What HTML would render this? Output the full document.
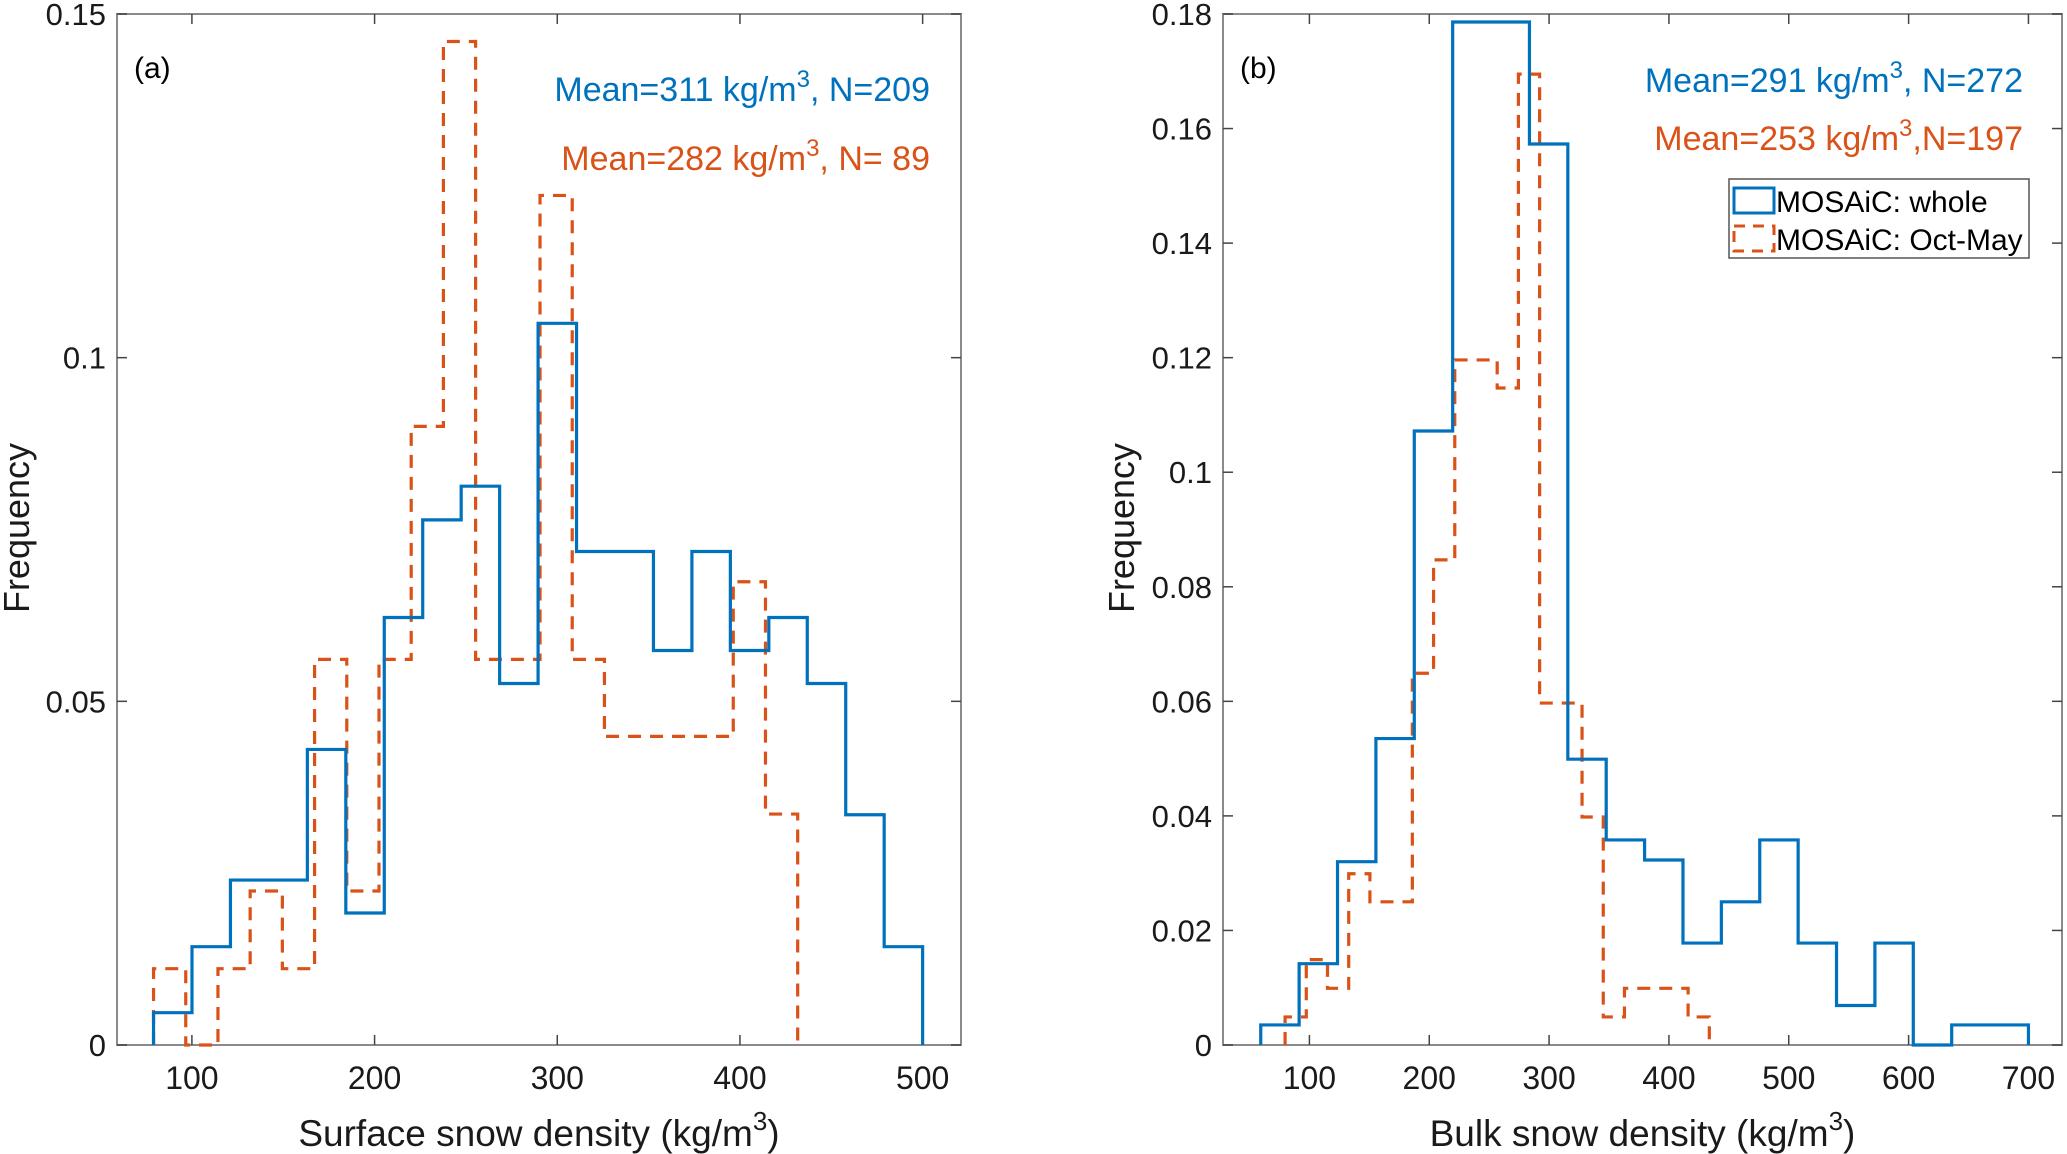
<!DOCTYPE html>
<html><head><meta charset="utf-8"><style>
html,body{margin:0;padding:0;background:#fff;}
svg{display:block;font-family:"Liberation Sans",Arial,sans-serif;}
</style></head><body>
<svg id="chart" width="2067" height="1154" viewBox="0 0 2067 1154" xmlns="http://www.w3.org/2000/svg"></svg>
<script>
// Panel (a) data
const aWholeStart = 79.0, aWholeWidth = 21.05;
const aWholeFreq = [0.0047,0.0143,0.024,0.024,0.043,0.0192,0.0622,0.0764,0.0813,0.0526,0.105,0.0718,0.0718,0.0574,0.0718,0.0574,0.0622,0.0526,0.0335,0.0143];
const aOctStart = 79.0, aOctWidth = 17.63;
const aOctFreq = [0.0111,0,0.0111,0.0224,0.0111,0.0561,0.0224,0.0561,0.090,0.146,0.0561,0.0561,0.1236,0.0561,0.0449,0.0449,0.0449,0.0449,0.0674,0.0336];
const aXTicks = [100,200,300,400,500];
const aYTicks = [0,0.05,0.1,0.15];
const aYTickLabels = ["0","0.05","0.1","0.15"];
// Panel (b) data
const bWholeStart = 59.4, bWholeWidth = 32.03;
const bWholeFreq = [0.0035,0.0142,0.032,0.0535,0.1072,0.1786,0.1786,0.1573,0.0499,0.0358,0.0323,0.0178,0.025,0.0358,0.0178,0.0069,0.0178,0,0.0035,0.0035];
const bOctStart = 79.7, bOctWidth = 17.7;
const bOctFreq = [0.0049,0.0149,0.0099,0.0299,0.025,0.025,0.0649,0.0847,0.1196,0.1196,0.1147,0.1695,0.0597,0.0597,0.0398,0.0049,0.0099,0.0099,0.0099,0.0049];
const bXTicks = [100,200,300,400,500,600,700];
const bYTicks = [0,0.02,0.04,0.06,0.08,0.1,0.12,0.14,0.16,0.18];
const bYTickLabels = ["0","0.02","0.04","0.06","0.08","0.1","0.12","0.14","0.16","0.18"];

const NS="http://www.w3.org/2000/svg";
const svg=document.getElementById('chart');
const BLUE="#0072BD", ORANGE="#D95319";
function mk(tag,attrs,parent){const e=document.createElementNS(NS,tag);for(const k in attrs)e.setAttribute(k,attrs[k]);(parent||svg).appendChild(e);return e;}

function panel(p){
  const g=mk('g',{});
  
  
  const sx=v=>p.L+(v-p.xmin)/(p.xmax-p.xmin)*(p.R-p.L);
  const sy=v=>p.B-(v-p.ymin)/(p.ymax-p.ymin)*(p.B-p.T);
  const box=mk('rect',{x:p.L,y:p.T,width:p.R-p.L,height:p.B-p.T,fill:'none',stroke:'#8a8a8a','stroke-width':2},g);
  
  
  p.xt.forEach(t=>{
    const x=sx(t);
    mk('line',{x1:x,y1:p.B,x2:x,y2:p.B-10,stroke:'#444','stroke-width':1.5},g);
    mk('line',{x1:x,y1:p.T,x2:x,y2:p.T+10,stroke:'#444','stroke-width':1.5},g);
    const tx=mk('text',{x:x,y:p.B+44,'font-size':32,'text-anchor':'middle',fill:'#1a1a1a'},g);
    tx.textContent=t;
    
    
  });
  p.yt.forEach((t,i)=>{
    const y=sy(t);
    mk('line',{x1:p.L,y1:y,x2:p.L+10,y2:y,stroke:'#444','stroke-width':1.5},g);
    mk('line',{x1:p.R,y1:y,x2:p.R-10,y2:y,stroke:'#444','stroke-width':1.5},g);
    const ty=mk('text',{x:p.L-11,y:y+11,'font-size':31,'text-anchor':'end',fill:'#1a1a1a'},g);
    ty.textContent=p.ytl[i];
    
    
  });
  function stairs(start,w,freq,color,dash,name){
    let d='M'+sx(start)+','+sy(0);
    freq.forEach((f,i)=>{const x0=sx(start+i*w),x1=sx(start+(i+1)*w);d+=' L'+x0+','+sy(f)+' L'+x1+','+sy(f);});
    d+=' L'+sx(start+freq.length*w)+','+sy(0);
    const a={d:d,fill:'none',stroke:color,'stroke-width':3.2,'stroke-linejoin':'miter'};
    if(dash)a['stroke-dasharray']='13,9';
    const path=mk('path',a,g);
    
    
  }
  stairs(p.os,p.ow,p.of,ORANGE,true,'series-oct-may');
  stairs(p.ws,p.ww,p.wf,BLUE,false,'series-whole');
  const pl=mk('text',{x:p.L+17,y:78,'font-size':30,fill:'#000'},g);
  pl.textContent=p.letter;
  
  
  function ann(y,txt1,txt2,color,name){
    const t=mk('text',{x:p.annR,y:y,'font-size':34,'text-anchor':'end',fill:color},g);
    const s1=mk('tspan',{},t);s1.textContent=txt1;
    const s2=mk('tspan',{dy:-14,'font-size':24},t);s2.textContent='3';
    const s3=mk('tspan',{dy:14},t);s3.textContent=txt2;
    
    
  }
  ann(p.ay1,p.t1a,p.t1b,BLUE,'mean-whole-annotation');
  ann(p.ay2,p.t2a,p.t2b,ORANGE,'mean-oct-may-annotation');
  const xl=mk('text',{x:(p.L+p.R)/2,y:1146,'font-size':37,'text-anchor':'middle',fill:'#1a1a1a'},g);
  const a1=mk('tspan',{},xl);a1.textContent=p.xlabel+' (kg/m';
  const a2=mk('tspan',{dy:-16,'font-size':26},xl);a2.textContent='3';
  const a3=mk('tspan',{dy:16},xl);a3.textContent=')';
  
  
  const yl=mk('text',{x:0,y:0,'font-size':36,'text-anchor':'middle',fill:'#1a1a1a',transform:'translate('+p.ylx+',528) rotate(-90)'},g);
  yl.textContent='Frequency';
  
  
  return g;
}
panel({id:'panel-a',L:117,R:961,T:14,B:1045,xmin:59,xmax:521,ymin:0,ymax:0.15,xt:aXTicks,yt:aYTicks,ytl:aYTickLabels,
  ws:aWholeStart,ww:aWholeWidth,wf:aWholeFreq,os:aOctStart,ow:aOctWidth,of:aOctFreq,letter:'(a)',annR:930,ay1:101,ay2:170,
  t1a:'Mean=311 kg/m',t1b:', N=209',t2a:'Mean=282 kg/m',t2b:', N= 89',xlabel:'Surface snow density',ylx:29});
panel({id:'panel-b',L:1223,R:2062,T:14,B:1045,xmin:27.9,xmax:728,ymin:0,ymax:0.18,xt:bXTicks,yt:bYTicks,ytl:bYTickLabels,
  ws:bWholeStart,ww:bWholeWidth,wf:bWholeFreq,os:bOctStart,ow:bOctWidth,of:bOctFreq,letter:'(b)',annR:2023,ay1:92,ay2:150,
  t1a:'Mean=291 kg/m',t1b:', N=272',t2a:'Mean=253 kg/m',t2b:',N=197',xlabel:'Bulk snow density',ylx:1134});
const lg=mk('g',{});


mk('rect',{x:1729,y:179,width:300,height:79,fill:'#fff',stroke:'#555','stroke-width':1.5},lg);
const r1=mk('rect',{x:1734,y:188,width:40,height:25,fill:'none',stroke:BLUE,'stroke-width':3},lg);


const r2=mk('rect',{x:1734,y:226,width:40,height:25,fill:'none',stroke:ORANGE,'stroke-width':3,'stroke-dasharray':'11,8'},lg);


const l1=mk('text',{x:1776,y:212,'font-size':30,fill:'#000'},lg);l1.textContent='MOSAiC: whole';


const l2=mk('text',{x:1776,y:250,'font-size':30,fill:'#000'},lg);l2.textContent='MOSAiC: Oct-May';


</script>
</body></html>
